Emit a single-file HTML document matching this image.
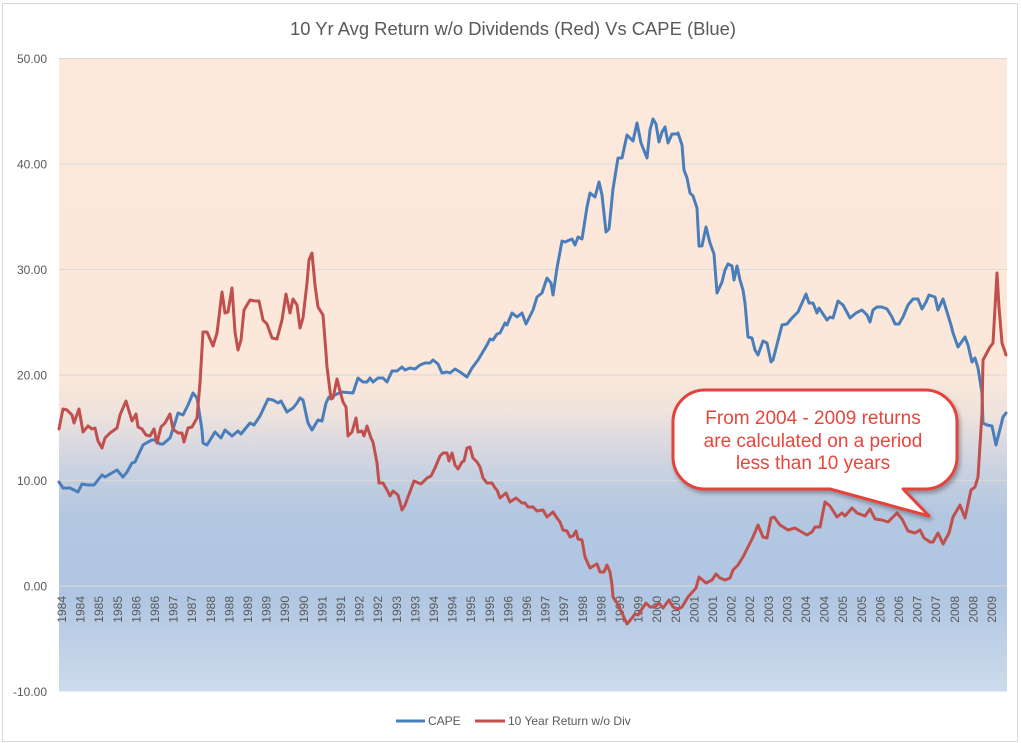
<!DOCTYPE html>
<html>
<head>
<meta charset="utf-8">
<style>
html,body{margin:0;padding:0;background:#fff;}
svg{display:block;}
text{font-family:"Liberation Sans",Arial,sans-serif;}
</style>
</head>
<body>
<svg width="1021" height="743" viewBox="0 0 1021 743" xmlns="http://www.w3.org/2000/svg">
<defs>
<linearGradient id="bg" x1="0" y1="0" x2="0" y2="1">
<stop offset="0" stop-color="#FCE9DB"/>
<stop offset="0.5" stop-color="#FBE8DA"/>
<stop offset="0.56" stop-color="#EFE3DC"/>
<stop offset="0.61" stop-color="#DAD9E0"/>
<stop offset="0.665" stop-color="#C4CFE0"/>
<stop offset="0.72" stop-color="#B3C7E1"/>
<stop offset="0.85" stop-color="#B0C6E2"/>
<stop offset="1" stop-color="#CDDBEC"/>
</linearGradient>
<filter id="sh" x="-10%" y="-10%" width="130%" height="140%">
<feDropShadow dx="2" dy="3" stdDeviation="2" flood-color="#000" flood-opacity="0.3"/>
</filter>
</defs>
<rect x="0" y="0" width="1021" height="743" fill="#fff"/>
<rect x="2.5" y="3.5" width="1015" height="738" fill="none" stroke="#D9D9D9" stroke-width="1"/>

<text x="513" y="35" text-anchor="middle" font-size="18" fill="#595959" textLength="446" lengthAdjust="spacingAndGlyphs">10 Yr Avg Return w/o Dividends (Red) Vs CAPE (Blue)</text>

<rect x="59" y="58.5" width="948" height="633" fill="url(#bg)"/>
<g stroke="#D9D9D9" stroke-width="1">
<line x1="59" y1="58.5" x2="1007" y2="58.5"/>
<line x1="59" y1="164" x2="1007" y2="164"/>
<line x1="59" y1="269.5" x2="1007" y2="269.5"/>
<line x1="59" y1="375" x2="1007" y2="375"/>
<line x1="59" y1="480.5" x2="1007" y2="480.5"/>
<line x1="59" y1="586" x2="1007" y2="586"/>
</g>

<g font-size="12" fill="#595959" text-anchor="end">
<text x="47" y="63">50.00</text>
<text x="47" y="168.5">40.00</text>
<text x="47" y="274">30.00</text>
<text x="47" y="379.5">20.00</text>
<text x="47" y="485">10.00</text>
<text x="47" y="590.5">0.00</text>
<text x="47" y="696">-10.00</text>
</g>

<g font-size="12" fill="#595959" text-anchor="end">
<text transform="translate(66,596) rotate(-90)">1984</text>
<text transform="translate(84.6,596) rotate(-90)">1984</text>
<text transform="translate(103.2,596) rotate(-90)">1985</text>
<text transform="translate(121.8,596) rotate(-90)">1985</text>
<text transform="translate(140.4,596) rotate(-90)">1986</text>
<text transform="translate(159,596) rotate(-90)">1986</text>
<text transform="translate(177.6,596) rotate(-90)">1987</text>
<text transform="translate(196.2,596) rotate(-90)">1987</text>
<text transform="translate(214.8,596) rotate(-90)">1988</text>
<text transform="translate(233.4,596) rotate(-90)">1988</text>
<text transform="translate(252,596) rotate(-90)">1989</text>
<text transform="translate(270.6,596) rotate(-90)">1989</text>
<text transform="translate(289.2,596) rotate(-90)">1990</text>
<text transform="translate(307.8,596) rotate(-90)">1990</text>
<text transform="translate(326.4,596) rotate(-90)">1991</text>
<text transform="translate(345,596) rotate(-90)">1991</text>
<text transform="translate(363.6,596) rotate(-90)">1992</text>
<text transform="translate(382.2,596) rotate(-90)">1992</text>
<text transform="translate(400.8,596) rotate(-90)">1993</text>
<text transform="translate(419.4,596) rotate(-90)">1993</text>
<text transform="translate(438,596) rotate(-90)">1994</text>
<text transform="translate(456.6,596) rotate(-90)">1994</text>
<text transform="translate(475.2,596) rotate(-90)">1995</text>
<text transform="translate(493.8,596) rotate(-90)">1995</text>
<text transform="translate(512.4,596) rotate(-90)">1996</text>
<text transform="translate(531,596) rotate(-90)">1996</text>
<text transform="translate(549.6,596) rotate(-90)">1997</text>
<text transform="translate(568.2,596) rotate(-90)">1997</text>
<text transform="translate(586.8,596) rotate(-90)">1998</text>
<text transform="translate(605.4,596) rotate(-90)">1998</text>
<text transform="translate(624,596) rotate(-90)">1999</text>
<text transform="translate(642.6,596) rotate(-90)">1999</text>
<text transform="translate(661.2,596) rotate(-90)">2000</text>
<text transform="translate(679.8,596) rotate(-90)">2000</text>
<text transform="translate(698.4,596) rotate(-90)">2001</text>
<text transform="translate(717,596) rotate(-90)">2001</text>
<text transform="translate(735.6,596) rotate(-90)">2002</text>
<text transform="translate(754.2,596) rotate(-90)">2002</text>
<text transform="translate(772.8,596) rotate(-90)">2003</text>
<text transform="translate(791.4,596) rotate(-90)">2003</text>
<text transform="translate(810,596) rotate(-90)">2004</text>
<text transform="translate(828.6,596) rotate(-90)">2004</text>
<text transform="translate(847.2,596) rotate(-90)">2005</text>
<text transform="translate(865.8,596) rotate(-90)">2005</text>
<text transform="translate(884.4,596) rotate(-90)">2006</text>
<text transform="translate(903,596) rotate(-90)">2006</text>
<text transform="translate(921.6,596) rotate(-90)">2007</text>
<text transform="translate(940.2,596) rotate(-90)">2007</text>
<text transform="translate(958.8,596) rotate(-90)">2008</text>
<text transform="translate(977.4,596) rotate(-90)">2008</text>
<text transform="translate(996,596) rotate(-90)">2009</text>
</g>

<polyline fill="none" stroke="#4A7EBB" stroke-width="3" stroke-linejoin="round" stroke-linecap="round" points="59,482 63,488 70,488 78,492 82,484 88,485 94,485 102,475 105,477 117,470 123,477 127,472 132,463 135,462 143,445 148,442 152,440 155,440 160,444 163,444 170,438 175,423 178,413 183,415 188,405 193,393 197,398 202,430 203,443 207,445 215,432 221,438 225,430 232,436 238,431 241,434 250,423 254,425 260,416 268,399 273,400 278,403 281,401 287,412 293,408 297,403 300,398 303,400 308,423 312,430 318,420 322,421 326,403 329,397 335,395 341,392 353,393 358,378 363,382 367,382 370,378 373,382 378,378 383,378 387,382 392,371 397,371 402,367 405,370 410,368 415,369 420,365 425,363 430,363 433,360 438,364 442,373 447,372 450,373 455,369 460,372 467,377 472,368 478,360 487,345 490,339 493,340 497,334 500,333 505,323 507,325 512,313 517,317 522,313 526,324 530,316 533,310 537,297 542,293 547,278 551,283 553,295 557,268 562,241 565,242 572,239 575,245 578,237 582,239 587,207 590,193 595,197 599,182 602,195 606,232 609,229 613,189 618,158 622,158 627,135 633,141 637,123 641,143 647,158 650,130 653,119 656,124 659,142 662,132 665,127 668,143 672,134 677,134 678,133 682,145 684,170 687,178 690,193 693,196 697,208 699,246 702,246 706,227 710,243 714,254 717,293 722,282 725,270 728,264 732,266 734,280 737,266 740,280 743,290 745,303 748,337 752,338 755,350 758,355 763,341 767,343 771,362 773,360 782,325 787,324 792,318 798,312 806,294 809,303 813,303 817,313 819,308 827,320 830,317 833,318 838,301 843,305 850,318 856,313 862,310 867,315 870,322 873,310 877,307 882,307 887,309 892,317 895,324 899,324 903,317 908,305 913,299 918,299 922,309 926,302 929,295 935,297 938,310 943,299 947,312 951,325 953,333 958,347 965,337 968,345 972,362 975,358 978,368 982,393 983,423 987,425 992,426 996,445 999,433 1003,417 1006,413"/>

<polyline fill="none" stroke="#C0504D" stroke-width="3" stroke-linejoin="round" stroke-linecap="round" points="59,429 63,409 67,410 72,415 74,423 79,409 83,432 88,426 92,429 95,428 98,441 102,448 105,438 110,433 117,428 120,415 126,401 132,421 136,414 138,427 142,429 146,435 150,436 154,429 157,443 161,427 165,423 170,414 173,429 178,433 182,433 184,442 188,428 192,427 197,418 200,383 203,332 207,332 213,346 217,333 222,292 225,313 228,312 232,288 235,332 238,350 241,340 244,310 250,300 255,301 259,301 263,320 267,324 272,338 277,339 282,320 286,294 290,313 293,299 297,305 300,328 303,318 307,283 309,260 312,253 315,285 318,307 323,315 326,353 327,367 331,399 333,398 337,379 340,391 343,402 346,407 348,436 352,432 356,418 358,432 362,431 364,436 367,426 371,438 373,442 377,463 379,483 383,483 387,490 390,496 393,491 398,495 402,510 405,505 414,481 421,484 427,478 431,476 435,468 440,456 443,453 447,453 449,461 452,453 455,465 458,469 462,462 464,461 467,448 470,447 473,458 477,462 480,467 483,478 487,483 492,483 495,488 497,490 500,498 506,493 510,502 516,498 522,503 525,503 528,507 533,507 537,511 543,510 547,517 553,512 557,518 560,522 563,530 567,531 570,537 573,536 576,531 578,539 582,540 585,557 590,568 595,565 597,564 600,572 604,572 607,565 610,572 612,585 613,597 617,603 622,613 627,624 632,618 635,614 638,615 646,603 650,607 655,607 659,603 663,608 669,600 673,607 678,609 682,607 688,597 696,588 699,577 706,583 712,580 716,574 720,578 725,580 730,578 733,570 738,565 743,557 750,543 753,537 758,525 763,537 767,538 771,518 774,517 780,525 788,530 795,528 800,531 807,535 812,532 815,527 820,527 825,502 830,506 837,517 842,513 845,516 852,508 857,513 865,516 870,509 875,519 882,520 888,522 897,513 902,519 908,531 915,533 920,530 924,538 930,542 933,542 938,533 943,544 949,533 953,517 960,505 965,518 971,490 975,487 978,477 982,413 983,360 990,347 993,343 997,273 999,307 1002,343 1006,355"/>

<path d="M705,390 H925 A32,32 0 0 1 957,422 V457 A32,32 0 0 1 925,489 H903 L929,516 L830,489 H705 A32,32 0 0 1 673,457 V422 A32,32 0 0 1 705,390 Z" fill="#FFFFFF" stroke="#E5433B" stroke-width="3" stroke-linejoin="round" filter="url(#sh)"/>
<g font-size="19" fill="#E8453C" text-anchor="middle">
<text x="813" y="424">From 2004 - 2009 returns</text>
<text x="813" y="447">are calculated on a period</text>
<text x="813" y="469">less than 10 years</text>
</g>

<line x1="396" y1="721" x2="425" y2="721" stroke="#4A7EBB" stroke-width="3"/>
<text x="428" y="725" font-size="12" fill="#595959">CAPE</text>
<line x1="475" y1="721" x2="505" y2="721" stroke="#C0504D" stroke-width="3"/>
<text x="508" y="725" font-size="12" fill="#595959">10 Year Return w/o Div</text>
</svg>
</body>
</html>
